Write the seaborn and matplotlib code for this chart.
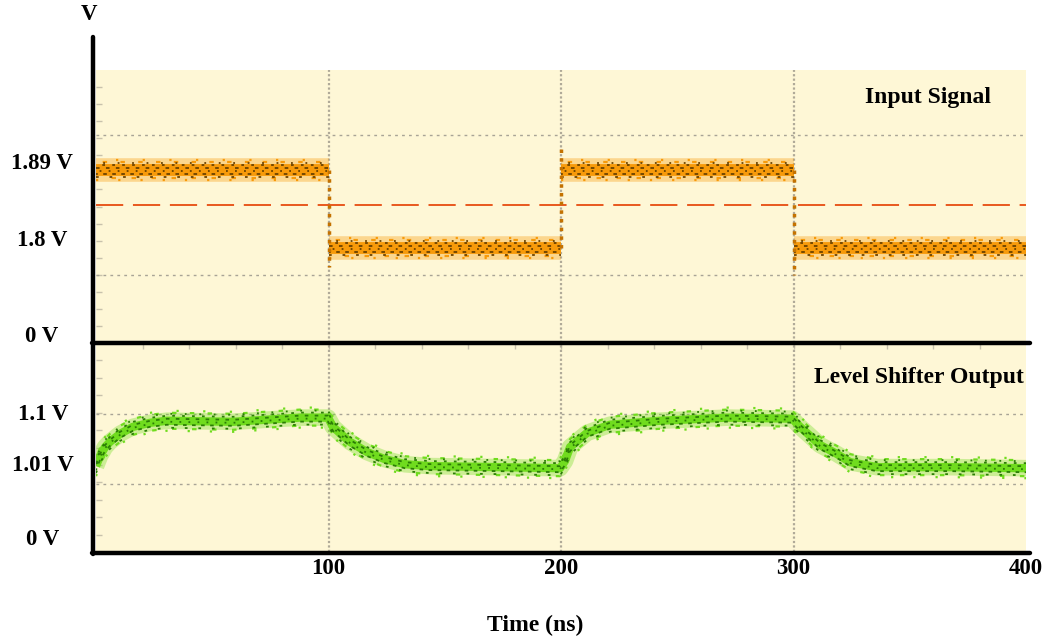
import pandas as pd
import seaborn as sns
import matplotlib.pyplot as plt
from matplotlib.lines import Line2D
from matplotlib import transforms

# ===============================
# Data (panel height = 0..1)
# ===============================

# input signal: flat levels between edges
in_seg_start = [0, 100, 200, 300]
in_seg_end = [100, 200, 300, 400]
in_seg_level = [0.634, 0.348, 0.634, 0.348]

# spikes at the edges
edge_t = [100, 200, 300]
edge_from = [0.634, 0.348, 0.634]
edge_to = [0.28, 0.72, 0.25]

threshold_level = 0.505
top_grid = [0.249, 0.762]
top_tick_pos = [0.659, 0.374, 0.022]
top_tick_lbl = ["1.89 V", "1.8 V", "0 V"]

# level shifter output
out_t = [0.0, 1.7, 3.9, 6.0, 10.3, 15.9, 23.2, 30.5, 58.9, 87.7, 99.8,
         101.9, 105.8, 109.2, 116.6, 124.3, 132.9, 143.7, 173.8, 199.6,
         201.7, 203.9, 211.2, 221.1, 242.6, 271.4, 299.4,
         302.8, 307.1, 311.4, 318.7, 324.3, 335.9, 367.3, 400.0]
out_v = [0.411, 0.459, 0.502, 0.527, 0.565, 0.599, 0.618, 0.628, 0.623, 0.643, 0.643,
         0.599, 0.560, 0.527, 0.478, 0.444, 0.420, 0.411, 0.406, 0.401,
         0.435, 0.502, 0.570, 0.609, 0.628, 0.643, 0.638,
         0.599, 0.556, 0.512, 0.469, 0.430, 0.406, 0.406, 0.401]

bot_grid = [0.324, 0.662]
bot_tick_pos = [0.657, 0.415, 0.058]
bot_tick_lbl = ["1.1 V", "1.01 V", "0 V"]

x_ticks = [100, 200, 300, 400]
edges_x = [100, 200, 300]

# ===============================
# Figure
# ===============================

W, H = 1045, 642
sns.set_style("white")
plt.rcParams['font.family'] = ['Liberation Serif', 'DejaVu Serif']
plt.rcParams['font.weight'] = 'bold'
plt.rcParams['text.color'] = 'black'

fig = plt.figure(figsize=(W / 100, H / 100), dpi=100)

def fx(x):
    return x / W

def fy(y):
    return 1 - y / H

bg = '#fef7d6'
ax1 = fig.add_axes([fx(96), fy(343), fx(1026) - fx(96), fy(70) - fy(343)], facecolor=bg)
ax2 = fig.add_axes([fx(96), fy(552), fx(1026) - fx(96), fy(343) - fy(552)], facecolor=bg)

for ax in (ax1, ax2):
    ax.set_xlim(0, 400)
    ax.set_ylim(0, 1)
    for s in ax.spines.values():
        s.set_visible(False)
    for x in edges_x:
        ax.axvline(x, color='#b0aa98', lw=1.6, ls=(0, (1, 1)), zorder=1)
    ax.set_yticks([])
    ax.set_xticks([])

ax1.set_yticks([i / 16 for i in range(1, 16)], minor=True)
ax2.set_yticks([i / 12 for i in range(1, 12)], minor=True)
ax2.set_xticks(range(20, 400, 20), minor=True)
for ax in (ax1, ax2):
    ax.tick_params(which='minor', direction='in', length=4, width=1,
                   color='#c8c2ac', left=True, bottom=False, top=(ax is ax2))

for g in top_grid:
    ax1.axhline(g, color='#a8a496', lw=1, ls=(0, (2, 3)), zorder=1)
for g in bot_grid:
    ax2.axhline(g, color='#a8a496', lw=1, ls=(0, (2, 3)), zorder=1)
ax1.axhline(threshold_level, color='#e8581e', lw=1.4, ls=(0, (14, 5)), zorder=2)


def layer(ax, df, color, lw, dy, dash, z, alpha=1.0, **kw):
    k = len(ax.lines)
    sns.lineplot(data=df, x='t', y='v', ax=ax, color=color, lw=lw, alpha=alpha,
                 estimator=None, sort=False, legend=False, zorder=z, **kw)
    for ln in ax.lines[k:]:
        ln.set_solid_capstyle('butt')
        ln.set_dash_capstyle('butt')
        if dash is not None:
            ln.set_linestyle(dash)
        if dy:
            ln.set_transform(transforms.offset_copy(ax.transData, fig=fig, x=0,
                                                    y=dy * 0.72, units='points'))


def noisy(ax, df, light, dark, core, **kw):
    # band plus offset speck lines to look like a scope trace
    layer(ax, df, light, core * 2.0, 0, None, 3, alpha=0.35, **kw)
    layer(ax, df, light, core, 0, None, 3, **kw)
    for dy, dash in [(-10, (0, (1, 9))), (10, (3, (1, 11))), (-8, (2, (2, 7))),
                     (8, (5, (2, 6)))]:
        layer(ax, df, light, 1.6, dy, dash, 3, **kw)
    for dy, dash in [(-7, (0, (1.5, 6))), (-4, (1, (2, 3))), (-1, (3, (1, 4))),
                     (2, (0, (2, 3.5))), (5, (2, (1.5, 4))), (7, (4, (1, 7)))]:
        layer(ax, df, dark, 1.3, dy, dash, 4, **kw)


# input signal
rows = []
for i in range(len(in_seg_start)):
    rows.append({'t': in_seg_start[i], 'v': in_seg_level[i], 'seg': i})
    rows.append({'t': in_seg_end[i], 'v': in_seg_level[i], 'seg': i})
df_in = pd.DataFrame(rows)
noisy(ax1, df_in, '#f79a0a', '#6b4200', 8.5, units='seg')

for t, a, b in zip(edge_t, edge_from, edge_to):
    ax1.plot([t, t], [a, b], color='#c47200', lw=2.5, ls=(0, (1, 1.5)), zorder=4)

df_out = pd.DataFrame({'t': out_t, 'v': out_v})
noisy(ax2, df_out, '#70dc1e', '#2b7d05', 6)

# ===============================
# Axes lines and labels
# ===============================

lw_axis = 3.2
fig.add_artist(Line2D([fx(93), fx(93)], [fy(37), fy(554)], color='black', lw=lw_axis,
                      solid_capstyle='round', transform=fig.transFigure))
fig.add_artist(Line2D([fx(92), fx(1030)], [fy(343), fy(343)], color='black', lw=lw_axis,
                      transform=fig.transFigure))
fig.add_artist(Line2D([fx(92), fx(1030)], [fy(553), fy(553)], color='black', lw=lw_axis,
                      transform=fig.transFigure))

fs = 16.5
tr1 = transforms.blended_transform_factory(fig.transFigure, ax1.transData)
tr2 = transforms.blended_transform_factory(fig.transFigure, ax2.transData)
for p, l in zip(top_tick_pos, top_tick_lbl):
    fig.text(fx(42), p, l, transform=tr1, ha='center', va='center', fontsize=fs, fontweight='bold')
for p, l in zip(bot_tick_pos, bot_tick_lbl):
    fig.text(fx(43), p, l, transform=tr2, ha='center', va='center', fontsize=fs, fontweight='bold')

trx = transforms.blended_transform_factory(ax2.transData, fig.transFigure)
for x in x_ticks:
    fig.text(x, fy(569), str(x), transform=trx, ha='center', va='center', fontsize=fs, fontweight='bold')

fig.text(fx(89), fy(14), "V", ha='center', va='center', fontsize=fs, fontweight='bold')
fig.text(fx(535), fy(625), "Time (ns)", ha='center', va='center', fontsize=17, fontweight='bold')
fig.text(fx(991), fy(98), "Input Signal", ha='right', va='center', fontsize=17, fontweight='bold')
fig.text(fx(1024), fy(377), "Level Shifter Output", ha='right', va='center', fontsize=17, fontweight='bold')

plt.savefig("out.png", dpi=100)
